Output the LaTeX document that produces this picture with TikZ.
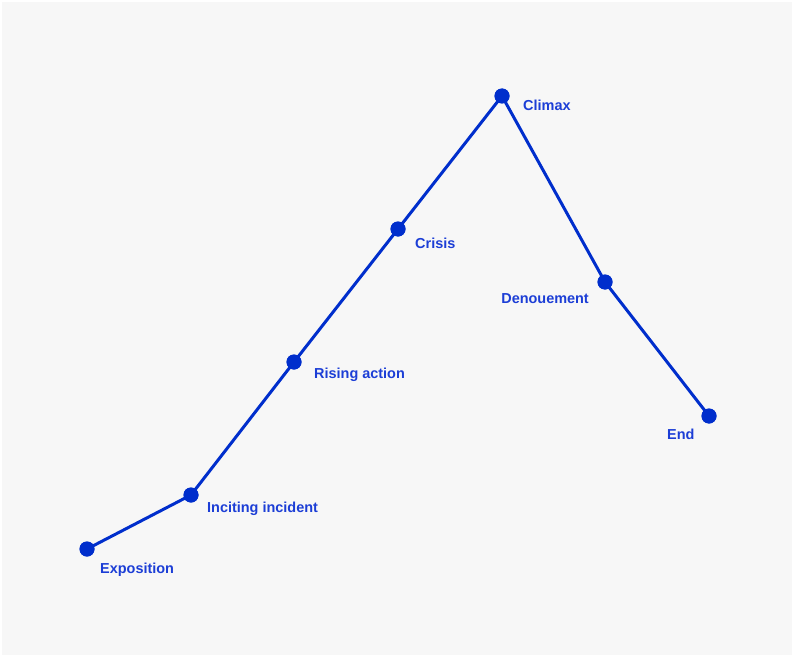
\documentclass[tikz,border=0pt]{standalone}
\usepackage{fontspec}
\setmainfont{Liberation Sans}
\definecolor{plotblue}{RGB}{0,46,204}
\definecolor{labelblue}{RGB}{28,62,214}
\definecolor{bg}{RGB}{247,247,247}
\begin{document}
\begin{tikzpicture}[x=1bp,y=-1bp,
  dot/.style={circle,fill=plotblue,inner sep=0pt,minimum size=15bp},
  lbl/.style={text=labelblue,font=\fontsize{14.5}{17}\selectfont\bfseries,inner sep=0pt},
  seg/.style={draw=plotblue,line width=3bp}]
\useasboundingbox (0,0) rectangle (794,657);
\fill[white] (0,0) rectangle (794,657);
\fill[bg] (2,2) rectangle (792,655);
\node[dot] (expo) at (87,549) {};
\node[dot] (inci) at (191,495) {};
\node[dot] (rise) at (294,362) {};
\node[dot] (cris) at (398,229) {};
\node[dot] (clim) at (502,96) {};
\node[dot] (deno) at (605,282) {};
\node[dot] (end) at (709,416) {};
\draw[seg] (expo.center) -- (inci.center) -- (rise.center) -- (cris.center) -- (clim.center) -- (deno.center) -- (end.center);
\foreach \n in {expo,inci,rise,cris,clim,deno,end}{\node[dot] at (\n) {};}
\node[lbl,anchor=west] (lexpo) at (100,570) {Exposition};
\node[lbl,anchor=west] (linci) at (207,509) {Inciting incident};
\node[lbl,anchor=west] (lrise) at (314,375) {Rising action};
\node[lbl,anchor=west] (lcris) at (415,243) {Crisis};
\node[lbl,anchor=west] (lclim) at (523,105) {Climax};
\node[lbl,anchor=east] (ldeno) at (589,299) {Denouement};
\node[lbl,anchor=west] (lend) at (667,434) {End};
\end{tikzpicture}
\end{document}
